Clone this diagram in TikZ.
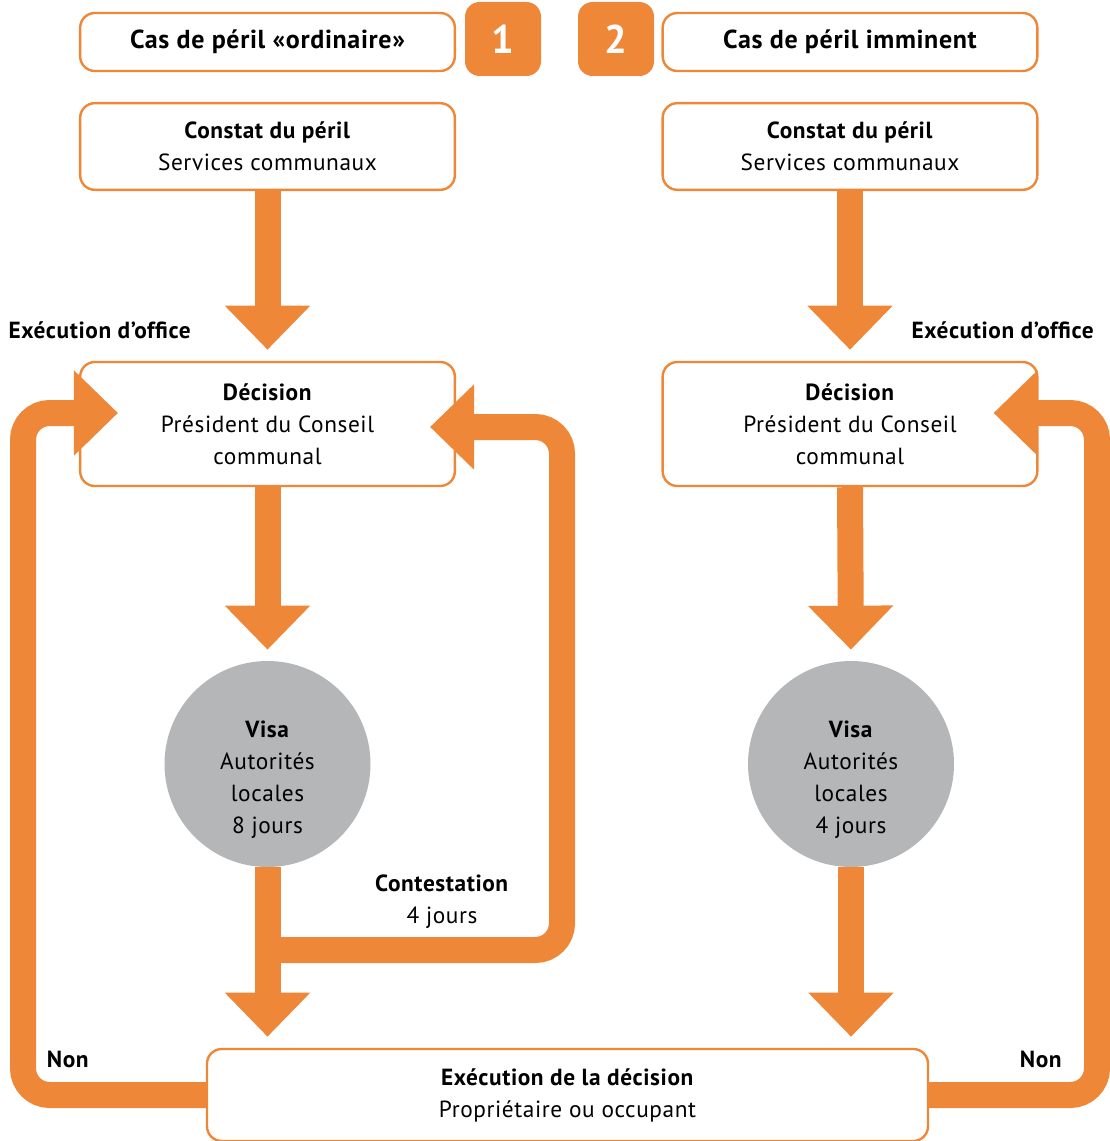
\documentclass[tikz,border=0pt]{standalone}
\usepackage{fontspec}
\setmainfont{PT Sans}[LetterSpace=2.5]
\usetikzlibrary{arrows.meta,calc}
\definecolor{org}{HTML}{EE8737}
\definecolor{grey}{HTML}{B5B6B8}
\begin{document}
\begin{tikzpicture}[x=0.75pt,y=-0.75pt,
  box/.style={draw=org, line width=1.8pt, rounded corners=11pt, align=center,
    font=\fontsize{17.5}{24}\selectfont, inner sep=0pt, minimum width=281pt},
  hdr/.style={box, minimum height=43.5pt, font=\fontsize{19.5}{24}\selectfont\bfseries},
  badge/.style={fill=org, rounded corners=11pt, minimum width=57pt, minimum height=55.5pt,
    text=white, font=\fontsize{30}{32}\selectfont\bfseries, inner sep=0pt},
  visa/.style={circle, fill=grey, minimum size=154.5pt, inner sep=0pt},
  txt/.style={align=center, font=\fontsize{17.5}{24}\selectfont, inner sep=0pt},
  flow/.style={draw=org, line width=19.5pt, shorten >=8.3pt, -{Triangle[length=33pt,width=62pt]}},
  loopflow/.style={draw=org, line width=19.5pt, rounded corners=20pt, -{Triangle[length=33pt,width=62pt]}}]
\useasboundingbox (0,0) rectangle (1109,1141);

% headers and badges
\node[hdr] (hdr1) at (267.5,42) {Cas de péril «ordinaire»};
\node[badge] (b1) at (503,39) {1};
\node[badge] (b2) at (616,39) {2};
\node[hdr] (hdr2) at (850,42) {Cas de péril imminent};

% constat
\node[box, minimum height=65pt] (con1) at (267.5,146.5) {\textbf{Constat du péril}\\Services communaux};
\node[box, minimum height=65pt] (con2) at (850,146.5) {\textbf{Constat du péril}\\Services communaux};

% decision
\node[box, minimum height=93pt] (dec1) at (267.5,424) {\textbf{Décision}\\Président du Conseil\\communal};
\node[box, minimum height=93pt] (dec2) at (850,424) {\textbf{Décision}\\Président du Conseil\\communal};

% visa circles
\node[visa] (visa1) at (267.5,764) {};
\node[visa] (visa2) at (851,764) {};
\node[txt] (vt1) at (267.5,780) {\textbf{Visa}\\Autorités\\locales\\8 jours};
\node[txt] (vt2) at (851,780) {\textbf{Visa}\\Autorités\\locales\\4 jours};

% execution
\node[box, minimum width=540.75pt, minimum height=69pt] (exe) at (567.5,1095) {\textbf{Exécution de la décision}\\Propriétaire ou occupant};

% straight flows
\draw[flow] (con1.south) -- (dec1.north);
\draw[flow] (con2.south) -- (dec2.north);
\draw[flow] (dec1.south) -- (visa1.north);
\draw[flow] (dec2.south) -- (visa2.north);
\draw[flow] (visa1.south) -- (visa1.south |- exe.north);
\draw[flow] (visa2.south) -- (visa2.south |- exe.north);

% contestation loop
\coordinate (cs) at (267.5,950);
\coordinate (t1) at ($(dec1.east)+(-26,3)$);
\draw[loopflow] (cs) -- (562,950) -- (562,427) -- (t1);

% Non loops
\coordinate (tl) at ($(dec1.west)+(39,-11)$);
\coordinate (tr) at ($(dec2.east)+(-45,-11)$);
\draw[loopflow] (exe.west) -- (23,1095) -- (23,413) -- (tl);
\draw[loopflow] (exe.east) -- (1097,1095) -- (1097,413) -- (tr);

% labels
\node[txt] (eo1) at (100,330) {\textbf{Exécution d’office}};
\node[txt] (eo2) at (1003,330) {\textbf{Exécution d’office}};
\node[txt] (ct) at (442,902) {\textbf{Contestation}\\4 jours};
\node[txt] (n1) at (68,1059) {\textbf{Non}};
\node[txt] (n2) at (1041,1059) {\textbf{Non}};
\end{tikzpicture}
\end{document}
